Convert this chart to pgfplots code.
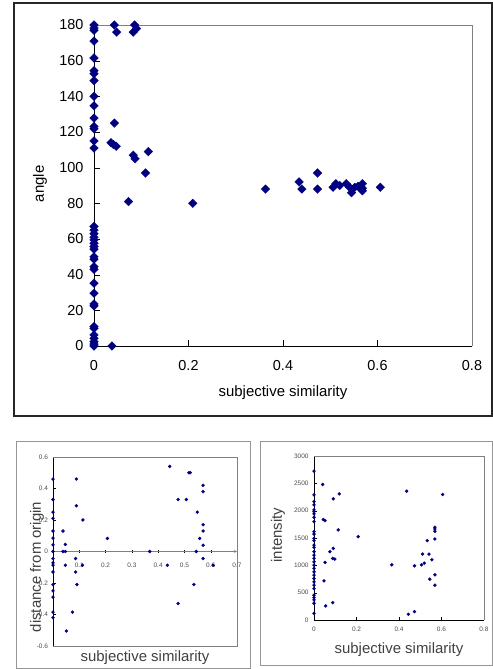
\documentclass[border=0pt]{standalone}
\usepackage{fontspec}
\setmainfont{Liberation Sans}
\usepackage{pgfplots}
\pgfplotsset{compat=1.18}
\definecolor{ptnavy}{RGB}{0,0,128}
\definecolor{boxgray}{RGB}{128,128,128}
\definecolor{framegray}{RGB}{150,150,150}

\pgfplotsset{
  xlsstyle/.style={
    scale only axis,
    clip=false,
    axis x line=bottom, axis y line=left,
    axis line style={-, black},
    tick align=inside,
    /pgf/number format/assume math mode=true,
    /pgf/number format/1000 sep={},
    scaled ticks=false,
    tick style={black},
  },
}

\begin{document}
\begin{tikzpicture}[x=1bp,y=1bp]
\path[use as bounding box] (0bp,0bp) rectangle (493bp,669bp);

% frames around the three panels
\draw[line width=1.2bp, black!85] (14bp,253bp) rectangle (492bp,666bp);
\draw[line width=1bp, framegray] (16bp,1bp) rectangle (250bp,227bp);
\draw[line width=1bp, framegray] (260bp,3bp) rectangle (492.5bp,227bp);

% main panel: angle
\begin{axis}[
  xlsstyle,
  at={(94bp,323bp)}, anchor=south west,
  width=378bp, height=321bp,
  xmin=0, xmax=0.8, ymin=0, ymax=180,
  xtick={0,0.2,0.4,0.6,0.8},
  ytick={0,20,...,180},
  major tick length=6bp,
  tick label style={font=\fontsize{14.5}{16}\selectfont},
  xticklabel style={yshift=-11bp},
  yticklabel style={xshift=-7bp},
  label style={font=\fontsize{15}{17}\selectfont},
  xlabel={subjective similarity},
  ylabel={angle},
  xlabel style={at={(axis description cs:0.5,-0.146)}, anchor=center},
  ylabel style={at={(axis description cs:-0.143,0.505)}, anchor=center},
]
\draw[boxgray, line width=0.9bp] (rel axis cs:0,1) -- (rel axis cs:1,1) -- (rel axis cs:1,0);
\addplot[only marks, mark=square*, mark size=3.1bp, mark options={rotate=45, fill=ptnavy, draw=ptnavy, line width=0.2bp}]
coordinates {
(0,180) (0,178.3) (0,177) (0,171) (0,161.5) (0,154.4) (0,152.7) (0,148.8)
(0,140) (0,134.7) (0,127.8) (0,123.1) (0,121.8) (0,115) (0,111)
(0,67) (0,65) (0,63) (0,61) (0,59.5) (0,57.6) (0,55.8) (0,54.3)
(0,50) (0,48.7) (0,44.5) (0,43) (0,35.2) (0,29.6) (0,23.6) (0,22.5)
(0,10.9) (0,9.9) (0,6.2) (0,4.3) (0,2.4) (0,1.1) (0,0)
(0.043,180) (0.048,176) (0.086,180) (0.090,178) (0.083,176)
(0.043,125) (0.036,114) (0.041,113) (0.047,112)
(0.083,107) (0.087,105) (0.115,109) (0.109,97) (0.073,81)
(0.209,80) (0.038,0)
(0.363,88) (0.434,92) (0.440,88) (0.473,97) (0.473,88)
(0.506,89) (0.512,91) (0.520,90) (0.534,91) (0.545,86) (0.541,89)
(0.552,89) (0.559,89.5) (0.568,91) (0.568,88.5) (0.568,87) (0.606,89)
};
\end{axis}

% lower left panel: distance from origin
\begin{axis}[
  xlsstyle,
  axis x line=middle,
  x axis line style={boxgray},
  at={(53bp,23bp)}, anchor=south west,
  width=184bp, height=189bp,
  xmin=0, xmax=0.7, ymin=-0.6, ymax=0.6,
  xtick={0.1,0.2,0.3,0.4,0.5,0.6,0.7},
  ytick={-0.6,-0.4,-0.2,0,0.2,0.4,0.6},
  major tick length=2.5bp,
  tick label style={font=\fontsize{6.5}{7}\selectfont, text=black!70},
  xticklabel style={yshift=-7bp},
  yticklabel style={xshift=-1.5bp},
  label style={font=\fontsize{15}{17}\selectfont, text=black!75},
  xlabel={subjective similarity},
  ylabel={distance from origin},
  xlabel style={at={(axis description cs:0.5,-0.063)}, anchor=center},
  ylabel style={at={(axis description cs:-0.087,0.418)}, anchor=center},
]
\draw[boxgray, line width=0.7bp] (rel axis cs:0,0) -- (rel axis cs:1,0) -- (rel axis cs:1,1) -- (rel axis cs:0,1);
\addplot[only marks, mark=*, mark size=1.5bp, mark options={fill=ptnavy, draw=ptnavy}]
coordinates {
(0,0.46) (0,0.33) (0,0.25) (0,0.21) (0,0.13) (0,0.085) (0,0.042) (0,0)
(0,-0.045) (0,-0.072) (0,-0.087) (0,-0.13) (0,-0.21) (0,-0.25) (0,-0.29)
(0,-0.385) (0,-0.42)
(0.038,0.13) (0.038,0) (0.047,0) (0.047,0.045) (0.047,-0.087) (0.051,-0.505)
(0.089,0.46) (0.089,0.29) (0.086,-0.045) (0.086,-0.13) (0.091,-0.21)
(0.074,-0.385) (0.114,0.20) (0.112,-0.087) (0.207,0.083) (0.368,0)
(0.444,0.54) (0.435,-0.087) (0.476,0.33) (0.476,-0.33) (0.507,0.33)
(0.517,0.50) (0.522,0.50) (0.549,0.25) (0.545,0) (0.558,0.083)
(0.536,-0.21) (0.571,0.42) (0.571,0.38) (0.571,0.17) (0.571,0.13)
(0.571,0.04) (0.571,-0.045) (0.609,-0.087)
};
\end{axis}

% lower right panel: intensity
\begin{axis}[
  xlsstyle,
  at={(314bp,49bp)}, anchor=south west,
  width=170bp, height=164bp,
  xmin=0, xmax=0.8, ymin=0, ymax=3000,
  xtick={0,0.2,0.4,0.6,0.8},
  ytick={0,500,...,3000},
  major tick length=2.5bp,
  tick label style={font=\fontsize{6.5}{7}\selectfont, text=black!70},
  xticklabel style={yshift=-3bp},
  yticklabel style={xshift=-2bp},
  label style={font=\fontsize{15}{17}\selectfont, text=black!75},
  xlabel={subjective similarity},
  ylabel={intensity},
  xlabel style={at={(axis description cs:0.5,-0.183)}, anchor=center},
  ylabel style={at={(axis description cs:-0.212,0.518)}, anchor=center},
]
\draw[boxgray, line width=0.7bp] (rel axis cs:0,1) -- (rel axis cs:1,1) -- (rel axis cs:1,0);
\addplot[only marks, mark=*, mark size=1.5bp, mark options={fill=ptnavy, draw=ptnavy}]
coordinates {
(0,2724) (0,2290) (0,2167) (0,2106) (0,2014) (0,1984) (0,1941) (0,1879)
(0,1800) (0,1616) (0,1573) (0,1494) (0,1451) (0,1371) (0,1328) (0,1249)
(0,1188) (0,1126) (0,1065) (0,1004) (0,943) (0,882) (0,820) (0,759)
(0,698) (0,637) (0,575) (0,453) (0,410) (0,367) (0,306) (0,122)
(0.041,2479) (0.091,2216) (0.119,2308) (0.044,1837) (0.052,1818)
(0.114,1647) (0.208,1524) (0.091,1310) (0.075,1249) (0.088,1126)
(0.098,1114) (0.052,1053) (0.047,716) (0.055,257) (0.088,318)
(0.436,2357) (0.605,2296) (0.366,1010) (0.473,992) (0.506,1010)
(0.519,1041) (0.511,1206) (0.541,1206) (0.555,1102) (0.533,1451)
(0.569,1696) (0.569,1665) (0.569,1622) (0.569,1482) (0.569,826)
(0.545,747) (0.569,637) (0.444,104) (0.473,153)
};
\end{axis}
\end{tikzpicture}
\end{document}
